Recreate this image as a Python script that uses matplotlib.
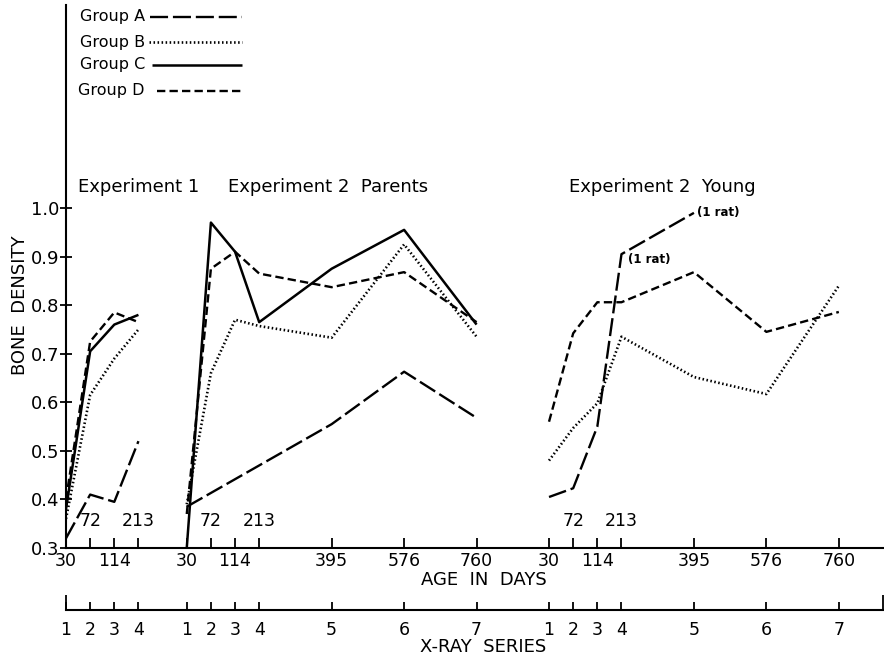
import numpy as np
import matplotlib
matplotlib.use("Agg")
import matplotlib.pyplot as plt
from matplotlib.lines import Line2D

W, H = 884, 659

# x-ray series and the age (days) at each one
SERIES = [1, 2, 3, 4, 5, 6, 7]
AGE_DAYS = [30, 72, 114, 213, 395, 576, 760]
AGE_BELOW = [30, 114, 395, 576, 760]
AGE_ABOVE = [72, 213]

# Experiment 1 (series 1-4)
EXP1_A = [0.32, 0.41, 0.395, 0.52]
EXP1_B = [0.36, 0.615, 0.69, 0.75]
EXP1_C = [0.38, 0.705, 0.76, 0.78]
EXP1_D = [0.40, 0.725, 0.785, 0.765]

# Experiment 2 parents (series 1-7)
PAR_A = [0.385, None, None, None, 0.555, 0.663, 0.568]
PAR_B = [0.39, 0.66, 0.77, 0.757, 0.733, 0.925, 0.735]
PAR_C = [0.30, 0.97, 0.91, 0.765, 0.875, 0.955, 0.76]
PAR_D = [0.37, 0.875, 0.91, 0.865, 0.837, 0.868, 0.765]

# Experiment 2 young (series 1-7)
YNG_A = [0.405, 0.423, 0.55, 0.905, 0.99, None, None]
YNG_B = [0.48, 0.547, 0.598, 0.735, 0.652, 0.617, 0.84]
YNG_D = [0.56, 0.742, 0.806, 0.806, 0.868, 0.745, 0.786]

GROUPS = ["Group A", "Group B", "Group C", "Group D"]

# layout: series spacing along the shared axis, and where each panel starts
SERIES_STEP = [0, 1, 2, 3, 6, 9, 12]
PANEL_START = {"exp1": 0, "parents": 5, "young": 20}
XMAX = 33.87
YMAX = 1.418

plt.rcParams["font.family"] = "DejaVu Sans"
plt.rcParams["lines.scale_dashes"] = False

STYLES = {
    "Group A": dict(color="black", lw=1.7, dashes=(13, 3.5)),
    "Group B": dict(color="black", lw=1.9, dashes=(1.1, 1.8)),
    "Group C": dict(color="black", lw=1.8, linestyle="-"),
    "Group D": dict(color="black", lw=1.7, dashes=(6, 3)),
}

PANELS = [
    ("exp1", {"Group A": EXP1_A, "Group B": EXP1_B, "Group C": EXP1_C, "Group D": EXP1_D}),
    ("parents", {"Group A": PAR_A, "Group B": PAR_B, "Group C": PAR_C, "Group D": PAR_D}),
    ("young", {"Group A": YNG_A, "Group B": YNG_B, "Group D": YNG_D}),
]


def px(x, y):
    return x / W, 1 - y / H


def xpos(panel, i):
    return PANEL_START[panel] + SERIES_STEP[i]


fig = plt.figure(figsize=(W / 100, H / 100), dpi=100)
ax = fig.add_axes([66 / W, 1 - 548 / H, (W - 66) / W, (548 - 5) / H])
ax.set_xlim(0, XMAX)
ax.set_ylim(0.3, YMAX)

for panel, data in PANELS:
    for grp, vals in data.items():
        xs = [xpos(panel, i) for i, v in enumerate(vals) if v is not None]
        ys = [v for v in vals if v is not None]
        ax.plot(xs, ys, solid_capstyle="butt", dash_capstyle="butt", **STYLES[grp])

# (1 rat) notes on young group A
ax.annotate("(1 rat)", (xpos("young", 3), YNG_A[3]), xytext=(5, -4),
            textcoords="offset points", fontsize=8.5, fontweight="bold", va="center")
ax.annotate("(1 rat)", (xpos("young", 4), YNG_A[4]), xytext=(2, 0),
            textcoords="offset points", fontsize=8.5, fontweight="bold", va="center")

for s in ["top", "right"]:
    ax.spines[s].set_visible(False)
ax.spines["left"].set_linewidth(1.5)
ax.spines["bottom"].set_linewidth(1.5)

yt = np.round(np.arange(0.3, 1.01, 0.1), 1)
ax.set_yticks(yt)
ax.set_yticklabels([f"{v:.1f}" for v in yt], fontsize=13)
ax.tick_params(axis="y", direction="inout", length=8, width=1.3, pad=1)

xticks, xlabels = [], []
for panel, n in [("exp1", 4), ("parents", 7), ("young", 7)]:
    for i in range(n):
        xticks.append(xpos(panel, i))
        xlabels.append(str(AGE_DAYS[i]) if AGE_DAYS[i] in AGE_BELOW else "")
        if AGE_DAYS[i] in AGE_ABOVE:
            ax.text(xpos(panel, i), 0.356, str(AGE_DAYS[i]), ha="center", va="center", fontsize=12.5)
ax.set_xticks(xticks)
ax.set_xticklabels(xlabels, fontsize=12.5)
ax.tick_params(axis="x", direction="in", length=7, width=1.3, pad=3)

# second axis: x-ray series
ax2 = fig.add_axes([66 / W, 1 - 610 / H, (W - 66) / W, 0.0001])
ax2.set_xlim(0, XMAX)
for s in ["top", "right", "left"]:
    ax2.spines[s].set_visible(False)
ax2.spines["bottom"].set_linewidth(1.5)
ax2.set_yticks([])
sticks, slabels = [], []
for panel, n in [("exp1", 4), ("parents", 7), ("young", 7)]:
    for i in range(n):
        sticks.append(xpos(panel, i))
        slabels.append(str(SERIES[i]))
ax2.set_xticks(sticks)
ax2.set_xticklabels(slabels, fontsize=12.5)
ax2.xaxis.remove_overlapping_locs = False
ax2.set_xticks([0, XMAX - 0.03], minor=True)
ax2.tick_params(axis="x", which="major", direction="in", length=6, width=1.3, pad=8)
ax2.tick_params(axis="x", which="minor", direction="in", length=11, width=1.3)

# panel titles and axis labels
fig.text(*px(78, 187), "Experiment 1", fontsize=13, va="center", ha="left")
fig.text(*px(228, 187), "Experiment 2  Parents", fontsize=13, va="center", ha="left")
fig.text(*px(569, 187), "Experiment 2  Young", fontsize=13, va="center", ha="left")
fig.text(*px(20, 305), "BONE  DENSITY", fontsize=13, rotation=90, va="center", ha="center")
fig.text(*px(484, 580), "AGE  IN  DAYS", fontsize=13, va="center", ha="center")
fig.text(*px(483, 647), "X-RAY  SERIES", fontsize=13, va="center", ha="center")

# hand-drawn style legend at the top
leg_y = [17, 42, 65, 91]
leg_x0 = [150, 149, 152, 157]
for grp, y, x0 in zip(GROUPS, leg_y, leg_x0):
    fig.text(*px(145, y), grp, fontsize=11.5, va="center", ha="right")
    (x_a, y_a), (x_b, _) = px(x0, y), px(242, y)
    st = dict(STYLES[grp])
    fig.add_artist(Line2D([x_a, x_b], [y_a, y_a], transform=fig.transFigure,
                          solid_capstyle="butt", dash_capstyle="butt", **st))

fig.savefig("out.png", dpi=100)
